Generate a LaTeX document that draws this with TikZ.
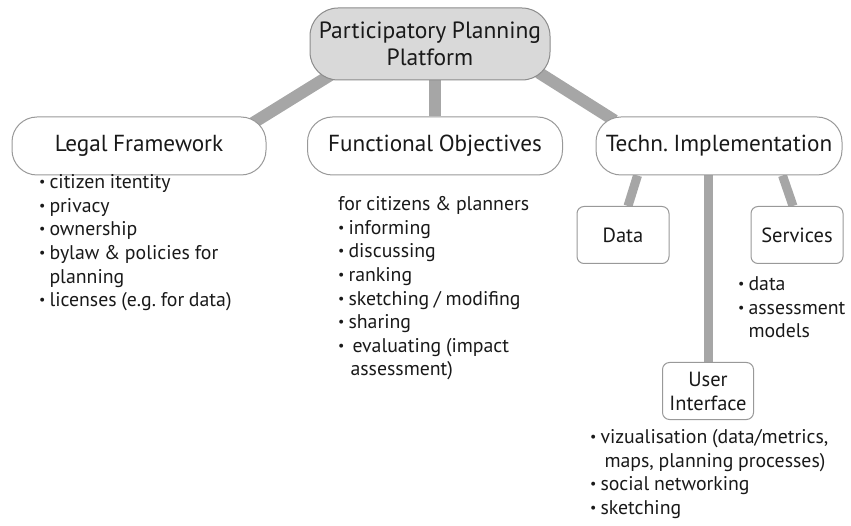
\documentclass[tikz,border=0pt]{standalone}
\usepackage{fontspec}
\setmainfont[WordSpace=0.9]{PT Sans}
\usetikzlibrary{positioning,backgrounds}

% small raised bullet for the item lists
\newcommand{\itemdot}{\raisebox{0.2ex}{\fontsize{14}{14}\selectfont\textbullet}}

\begin{document}
\begin{tikzpicture}[x=1pt, y=-1pt,
    every node/.style={font=\fontsize{19.8}{23.6}\selectfont, text=black!90},
    root/.style={draw=black!45, fill=black!15, rounded corners=28pt, minimum width=240pt, minimum height=72pt, align=center, line width=1pt, font=\fontsize{23.5}{27}\selectfont},
    pill/.style={draw=black!40, fill=white, rounded corners=25pt, minimum height=58pt, line width=1pt, font=\fontsize{23.2}{25}\selectfont},
    sub/.style={draw=black!40, fill=white, rounded corners=7pt, minimum width=92pt, minimum height=57pt, align=center, line width=1pt, font=\fontsize{20.5}{24}\selectfont},
    list/.style={anchor=north west, inner sep=0pt},
    bar/.style={line width=12pt, draw=black!35},
    thinbar/.style={line width=9pt, draw=black!35},
]
\useasboundingbox (0,0) rectangle (851,526);

% Top level
\node[root] (root) at (430,44) {Participatory Planning\\Platform};

% Second level
\node[pill, minimum width=254pt] (legal) at (139,146) {Legal Framework};
\node[pill, minimum width=255pt] (func) at (435,146) {Functional Objectives};
\node[pill, minimum width=246pt] (tech) at (719,146) {Techn.\ Implementation};

% Parts of the implementation
\node[sub] (data) at (623,235) {Data};
\node[sub] (serv) at (797,235) {Services};
\node[sub, minimum width=91pt] (ui) at (708,391) {User\\Interface};

% Lists under the boxes
\node[list] (legalitems) at (39,172) {%
  \begin{tabular}{@{}l@{\hspace{4pt}}l@{}}
  \itemdot & citizen itentity\\
  \itemdot & privacy\\
  \itemdot & ownership\\
  \itemdot & bylaw \& policies for\\
           & planning\\
  \itemdot & licenses (e.g.\ for data)
  \end{tabular}};
\node[list] (funcitems) at (338,194) {%
  \begin{tabular}{@{}l@{\hspace{4pt}}l@{}}
  \multicolumn{2}{@{}l@{}}{for citizens \& planners}\\
  \itemdot & informing\\
  \itemdot & discussing\\
  \itemdot & ranking\\
  \itemdot & sketching / modifing\\
  \itemdot & sharing\\
  \itemdot & \hspace{4pt}evaluating (impact\\
           & \hspace{2pt}assessment)
  \end{tabular}};
\node[list] (servitems) at (738,274) {%
  \begin{tabular}{@{}l@{\hspace{4pt}}l@{}}
  \itemdot & data\\
  \itemdot & assessment\\
           & models
  \end{tabular}};
\node[list] (uiitems) at (590,427) {%
  \begin{tabular}{@{}l@{\hspace{4pt}}l@{}}
  \itemdot & vizualisation (data/metrics,\\
           & \hspace{4pt}maps, planning processes)\\
  \itemdot & social networking\\
  \itemdot & sketching
  \end{tabular}};

% Connecting bars, behind the boxes
\begin{scope}[on background layer]
\draw[bar] ([xshift=25pt, yshift=8pt]root.south west) -- ([xshift=-16pt, yshift=-8pt]legal.north east);
\draw[bar] (func.north) -- (func.north |- root.south);
\draw[bar] ([xshift=-12pt, yshift=8pt]root.south east) -- ([xshift=19pt, yshift=-4pt]tech.north west);
\draw[thinbar] ([xshift=42pt]tech.south west) -- ([xshift=5pt]data.north);
\draw[thinbar] (ui.north) -- (ui.north |- tech.south);
\draw[thinbar] ([xshift=-60pt]tech.south east) -- ([xshift=-4pt]serv.north);
\end{scope}
\end{tikzpicture}
\end{document}
